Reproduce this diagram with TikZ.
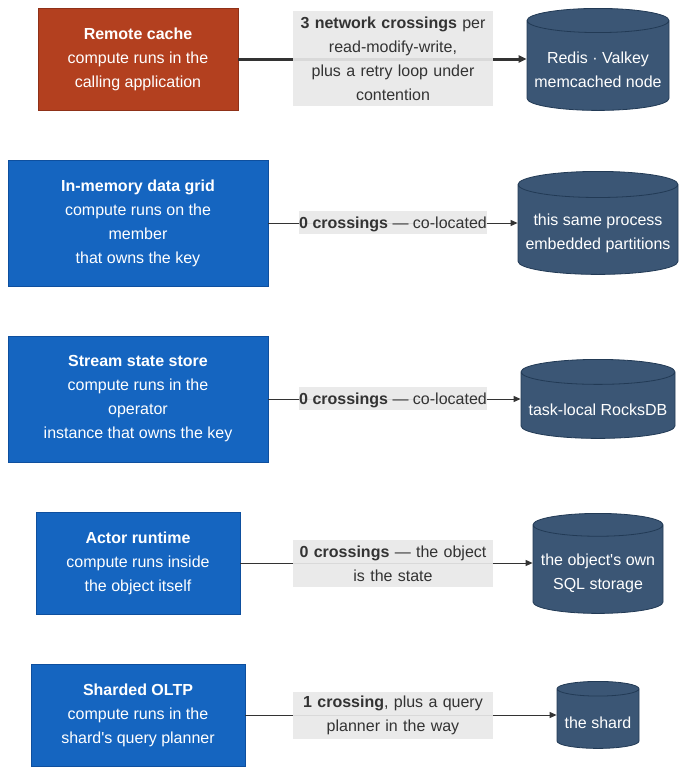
\documentclass[tikz,border=0pt]{standalone}
\usepackage{fontspec}
\setmainfont{Liberation Sans}
\usetikzlibrary{shapes.geometric,arrows.meta}

\definecolor{cachered}{HTML}{B3401F}
\definecolor{cacheredline}{HTML}{8F3118}
\definecolor{gridblue}{HTML}{1565C0}
\definecolor{gridblueline}{HTML}{0E4F9E}
\definecolor{storefill}{HTML}{3B5675}
\definecolor{storeline}{HTML}{223A55}
\definecolor{labelbg}{HTML}{E8E8E8}
\definecolor{ink}{HTML}{333333}

\newcommand{\topgap}{\rule{0pt}{20pt}}

\begin{document}
\begin{tikzpicture}[x=1pt,y=-1pt,
  every node/.style={font=\fontsize{16}{24}\selectfont, align=center, inner sep=0pt},
  site/.style={rectangle, draw=gridblueline, fill=gridblue, text=white, line width=0.8pt},
  remote/.style={site, draw=cacheredline, fill=cachered},
  store/.style={cylinder, shape border rotate=90, anchor=north, draw=storeline,
    fill=storefill, text=white, line width=0.8pt},
  hop/.style={fill=labelbg, fill opacity=0.92, text opacity=1, text=ink},
  onehop/.style={hop, minimum width=188, minimum height=23, text height=14.6pt, text depth=3.4pt},
  link/.style={draw=ink, line width=1pt, -{Triangle[length=7pt,width=6pt]}}]
\useasboundingbox (0,0) rectangle (686,774);

% remote cache
\node[remote, minimum width=200, minimum height=102] (cache) at (138,59)
  {\textbf{Remote cache}\\compute runs in the\\calling application};
\node[store, minimum width=142, minimum height=102, aspect=0.19] (redis) at (598,8)
  {\topgap Redis · Valkey\\memcached node};
\draw[link, line width=3pt, -{Triangle[length=8pt,width=7pt]}] (cache) -- (cache -| redis.west);
\node[hop, text width=200, minimum height=95] (hop1) at (393,58.5)
  {\textbf{3 network crossings} per\\read-modify-write,\\plus a retry loop under\\contention};

% data grid
\node[site, minimum width=260, minimum height=126] (grid) at (138,223)
  {\textbf{In-memory data grid}\\compute runs on the\\member\\that owns the key};
\node[store, minimum width=160, minimum height=103, aspect=0.18] (embedded) at (598,171)
  {\topgap this same process\\embedded partitions};
\draw[link] (grid) -- (grid -| embedded.west);
\node[onehop] (hop2) at (393,222.5) {\textbf{0 crossings} --- co-located};

% stream state
\node[site, minimum width=260, minimum height=126] (stream) at (138,399)
  {\textbf{Stream state store}\\compute runs in the\\operator\\instance that owns the key};
\node[store, minimum width=154, minimum height=79, aspect=0.18] (rocks) at (598,359)
  {\topgap task-local RocksDB};
\draw[link] (stream) -- (stream -| rocks.west);
\node[onehop] (hop3) at (393,398.5) {\textbf{0 crossings} --- co-located};

% actor
\node[site, minimum width=204, minimum height=102] (actor) at (138,563)
  {\textbf{Actor runtime}\\compute runs inside\\the object itself};
\node[store, minimum width=130, minimum height=100, aspect=0.2] (sqlite) at (598,513)
  {\topgap the object\textquotesingle s own\\SQL storage};
\draw[link] (actor) -- (actor -| sqlite.west);
\node[hop, text width=200, minimum height=47] (hop4) at (393,563.5)
  {\textbf{0 crossings} --- the object\\is the state};

% sharded oltp
\node[site, minimum width=214, minimum height=102] (oltp) at (138,715)
  {\textbf{Sharded OLTP}\\compute runs in the\\shard\textquotesingle s query planner};
\node[store, minimum width=82, minimum height=67, aspect=0.22] (shard) at (598,681)
  {\topgap the shard};
\draw[link] (oltp) -- (oltp -| shard.west);
\node[hop, text width=200, minimum height=47] (hop5) at (393,715.5)
  {\textbf{1 crossing}, plus a query\\planner in the way};
\end{tikzpicture}
\end{document}
